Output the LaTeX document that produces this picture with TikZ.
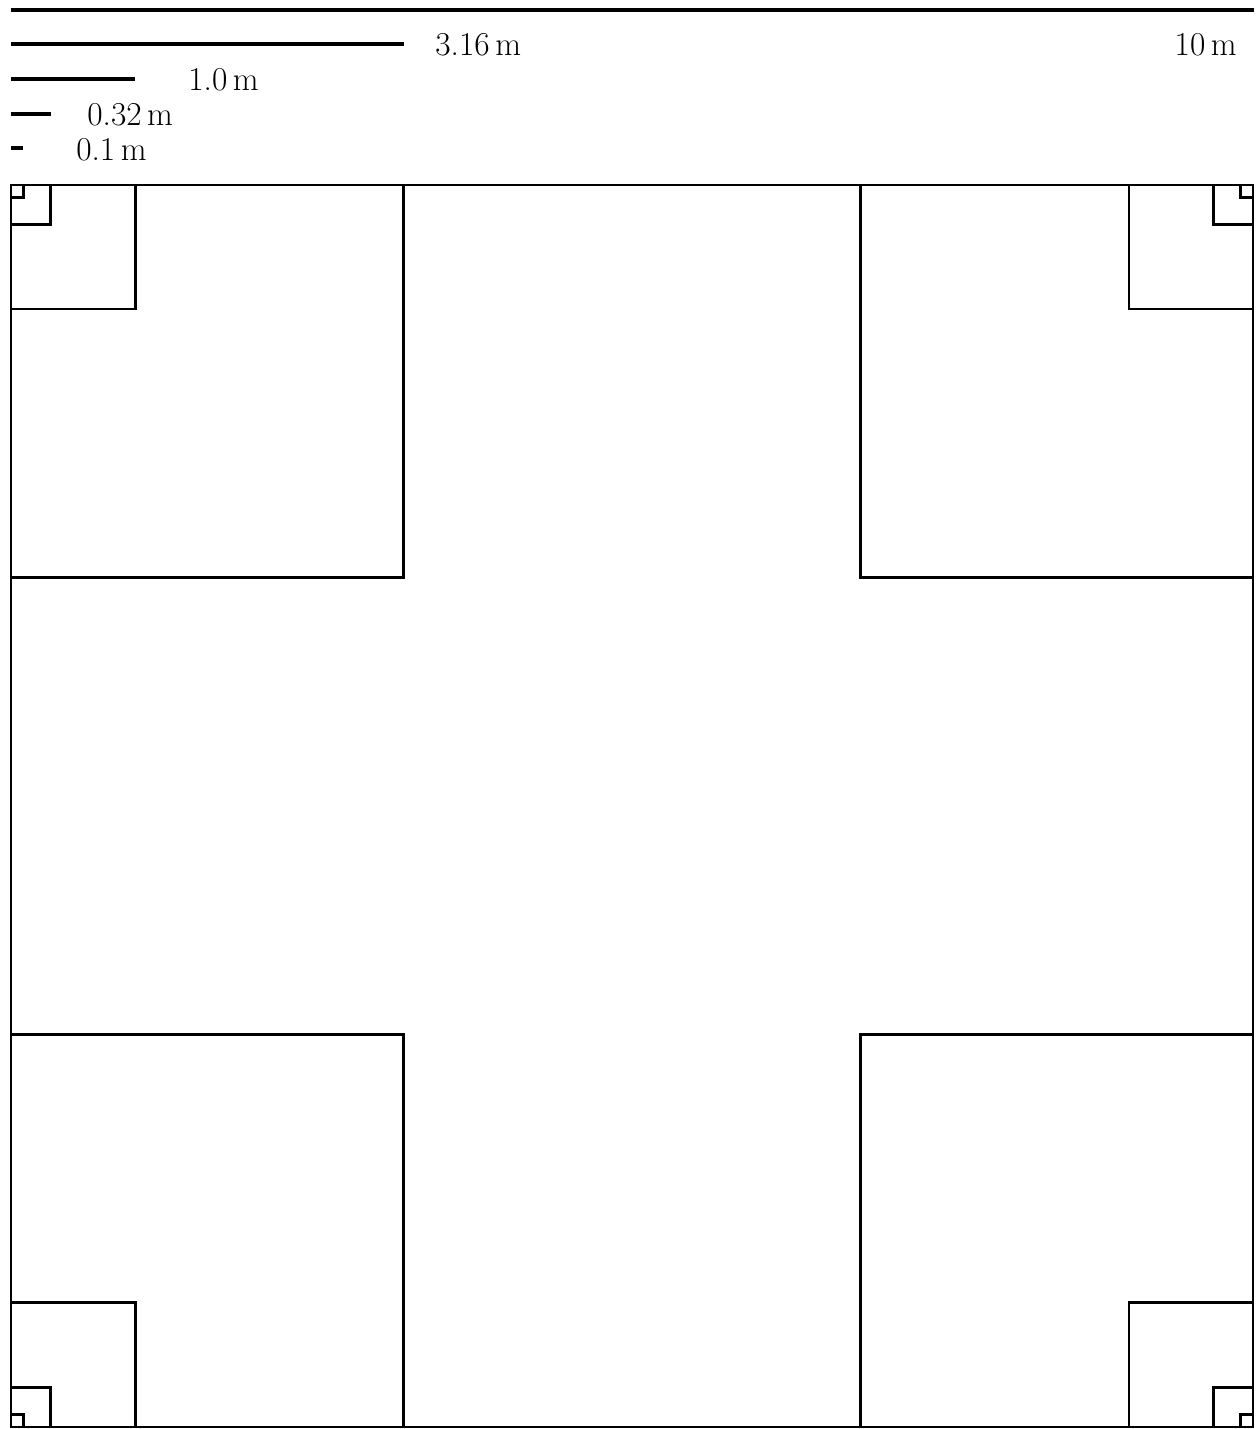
\documentclass[tikz,border=0pt]{standalone}
\usepackage{tikz}
\usetikzlibrary{positioning}

\begin{document}
\begin{tikzpicture}[x=2.484cm, y=2.484cm, every node/.style={font=\fontsize{19}{22}\selectfont, inner sep=0pt}]
                \useasboundingbox (-0.0886,-0.016) rectangle (10.032,11.489);
                % scale bars
                \draw[line width=2.3pt] (0,11.405) -- (10.01,11.405);
                \draw[line width=2pt] (0,11.135) -- (3.16,11.135);
                \draw[line width=2pt] (0,10.853) -- (1.0,10.853);
                \draw[line width=2pt] (0,10.572) -- (0.32,10.572);
                \draw[line width=2pt] (0,10.298) -- (0.1,10.298);
                \node[anchor=east] (l10) at (9.871,11.127) {10\,m};
                \node[anchor=west] (l316) at (3.414,11.127) {3.16\,m};
                \node[anchor=west] (l100) at (1.425,10.845) {1.0\,m};
                \node[anchor=west] (l032) at (0.612,10.566) {0.32\,m};
                \node[anchor=west] (l010) at (0.523,10.286) {0.1\,m};
                % outer square and corner squares
                \draw[line width=1.5pt] (0,0) rectangle (10,10);
                \foreach \s in {3.16,1.0,0.32,0.1} {
                    \draw[line width=1.5pt] (0,10-\s) rectangle (\s,10);
                    \draw[line width=1.5pt] (10-\s,10-\s) rectangle (10,10);
                    \draw[line width=1.5pt] (0,0) rectangle (\s,\s);
                    \draw[line width=1.5pt] (10-\s,0) rectangle (10,\s);
                }
            \end{tikzpicture}
\end{document}
